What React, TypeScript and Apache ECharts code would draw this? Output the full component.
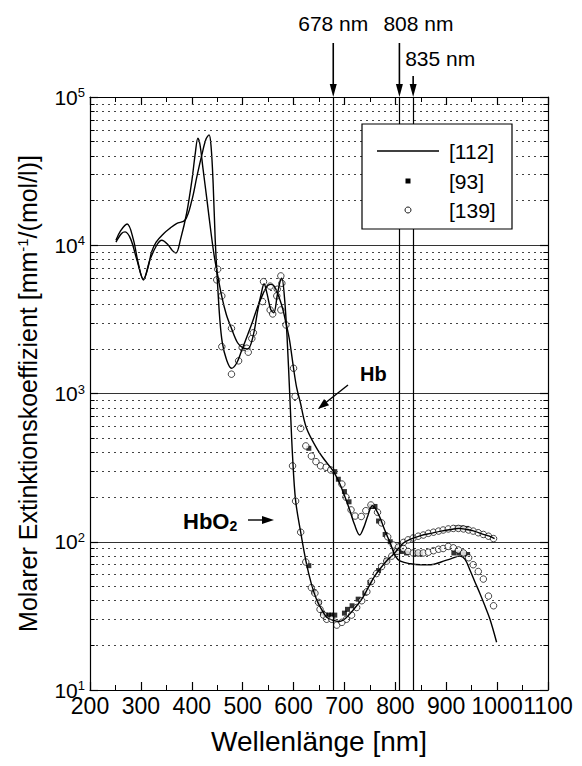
import React, { useEffect, useRef } from 'react';
import * as echarts from 'echarts';

const FONT = "'Liberation Sans', Arial, Helvetica, sans-serif";

// wavelengths of the marked laser lines (nm)
const laserLines = [678, 808, 835];
const laserLabels = ['678 nm', '808 nm', '835 nm'];

// y axis decades and mantissas for the dotted minor grid
const decades = [10, 100, 1000, 10000];
const mantissas = [2, 3, 4, 5, 6, 7, 8, 9];

// [112] – continuous curves
const hbO2_112: [number, number][] = [
  [251, 10500], [262, 12000], [269, 12300], [280, 11000], [292, 8000], [305, 5900], [318, 8000],
  [331, 10000], [341, 10800], [352, 10200], [362, 9200], [369, 8870], [378, 11000], [390, 16500],
  [400, 27000], [407, 42000], [412, 52800], [416, 48000], [422, 33000], [430, 20000], [438, 12000],
  [444, 8500], [449, 6800], [459, 4500], [468, 3400], [478, 2750], [490, 2200], [500, 2040],
  [510, 2000], [520, 2400], [530, 3700], [537, 4800], [542, 5500], [548, 4700], [555, 3700],
  [561, 3500], [568, 4600], [573, 5600], [577, 6000], [582, 4500], [587, 2500], [593, 900],
  [598, 380], [604, 190], [614, 116], [624, 75], [635, 52], [645, 41], [655, 35], [665, 31],
  [678, 29.5], [690, 29], [700, 30], [712, 33], [724, 37], [736, 42], [748, 50], [760, 59],
  [772, 67], [784, 75], [796, 82], [806, 90], [816, 98], [830, 104], [850, 110], [870, 114],
  [890, 118], [910, 121], [925, 123], [940, 121], [955, 118], [970, 113], [985, 109], [995, 105],
];
const hb_112: [number, number][] = [
  [251, 10800], [260, 12500], [273, 13900], [285, 11000], [295, 7500], [305, 5830], [315, 7300],
  [321, 9000], [330, 10500], [345, 12000], [357, 13000], [370, 14000], [387, 14800], [400, 20000],
  [410, 29000], [420, 41000], [428, 52000], [434, 55500], [438, 46000], [442, 26000], [446, 11000],
  [450, 6000], [455, 3200], [460, 2200], [468, 1700], [478, 1480], [488, 1600], [498, 1950],
  [510, 2500], [520, 3100], [530, 3900], [540, 4700], [548, 5300], [555, 5450], [562, 5300],
  [570, 4600], [578, 3800], [585, 3000], [592, 2300], [600, 1480], [606, 1100], [613, 880],
  [625, 590], [645, 430], [660, 360], [678, 300], [690, 250], [700, 205], [710, 165], [720, 130],
  [730, 111], [738, 125], [746, 150], [755, 175], [762, 165], [770, 145], [780, 118], [790, 98],
  [800, 80], [810, 74], [830, 71], [850, 70], [870, 70], [890, 73], [910, 77], [927, 80],
  [937, 76], [947, 64], [956, 54], [966, 45], [976, 37], [986, 30], [999, 21],
];

// [93] – filled squares
const hbO2_93: [number, number][] = [
  [630, 69], [640, 46], [650, 39], [657, 33], [663, 32], [669, 32], [675, 32], [681, 32],
  [700, 33], [706, 35], [715, 37], [727, 41], [740, 45], [750, 53], [767, 64], [783, 75],
  [800, 85], [920, 124], [930, 124], [940, 123],
];
const hb_93: [number, number][] = [
  [630, 427], [681, 297], [688, 264], [700, 218], [709, 186], [753, 173], [760, 173],
  [767, 138], [780, 112], [790, 100], [812, 86], [822, 84], [840, 83], [850, 83],
  [915, 84], [925, 84], [935, 83], [942, 82],
];

// [139] – open circles
const hbO2_139: [number, number][] = [
  [449, 5840], [459, 4550], [478, 2750], [499, 2040], [508, 2020], [518, 2350], [541, 5680],
  [554, 3660], [559, 3440], [567, 4550], [575, 6210], [577, 5540], [598, 325], [604, 188],
  [614, 116], [624, 73], [635, 49], [642, 45], [649, 39], [652, 35], [659, 32], [665, 30],
  [675, 30], [685, 27.4], [695, 28.6], [704, 30], [714, 32], [724, 36], [734, 40], [744, 46],
  [753, 54], [763, 61], [773, 68], [783, 74], [793, 80], [803, 86], [810, 93], [816, 99],
  [825, 103], [835, 106], [845, 109], [855, 111], [865, 114], [875, 116], [885, 118], [894, 120],
  [904, 122], [914, 123], [924, 123], [934, 122], [944, 120], [953, 118], [963, 115], [973, 112],
  [983, 109], [993, 105],
];
const hb_139: [number, number][] = [
  [451, 6890], [459, 2070], [478, 1350], [492, 1660], [511, 1900], [521, 2570], [539, 4170],
  [554, 5300], [568, 5050], [575, 3660], [585, 2900], [600, 1480], [603, 955], [614, 582],
  [624, 443], [635, 378], [644, 347], [653, 325], [664, 318], [673, 305], [695, 245], [703, 200],
  [713, 164], [721, 149], [733, 148], [742, 162], [752, 177], [765, 158], [773, 134], [785, 108],
  [796, 95], [806, 92], [816, 90], [825, 86], [835, 84], [845, 84], [855, 84], [865, 85],
  [875, 87], [885, 89], [894, 90], [904, 93], [914, 91], [924, 88], [934, 84], [944, 78],
  [953, 70], [963, 63], [973, 56], [983, 43], [993, 37],
];

const minorGridValues: number[] = [];
decades.forEach((d) => mantissas.forEach((m) => minorGridValues.push(d * m)));

const black = '#000';

function arrowHead(tipX: number, tipY: number, dx: number, dy: number, len: number, half: number) {
  const n = Math.hypot(dx, dy);
  const ux = dx / n, uy = dy / n;
  const bx = tipX - ux * len, by = tipY - uy * len;
  const px = -uy, py = ux;
  return [[tipX, tipY], [bx + px * half, by + py * half], [bx - px * half, by - py * half]];
}

export default function App() {
  const ref = useRef<HTMLDivElement>(null);
  useEffect(() => {
    if (!ref.current) return;
    const chart = echarts.init(ref.current, undefined, { renderer: 'svg' });

    const axisLine = { show: true, lineStyle: { color: black, width: 1.2 } };
    const xTick = { show: true, inside: true, length: 8, lineStyle: { color: black, width: 1.2 } };
    const xMinor = { show: true, splitNumber: 2, length: 5, lineStyle: { color: black, width: 1 } };
    const yTick = { show: true, inside: true, length: 8, lineStyle: { color: black, width: 1.2 } };

    const minorTickLines: any[] = [];
    minorGridValues.forEach((v) => {
      minorTickLines.push([{ coord: [200, v] }, { coord: [209, v] }]);
      minorTickLines.push([{ coord: [1100, v] }, { coord: [1091, v] }]);
    });

    const option: any = {
      animation: false,
      backgroundColor: '#fff',
      grid: { left: 90, top: 97, width: 458, height: 593 },
      xAxis: [
        {
          type: 'value', min: 200, max: 1100, interval: 100, position: 'bottom',
          axisLine, axisTick: xTick, minorTick: xMinor, splitLine: { show: false },
          axisLabel: {
            fontSize: 23, color: black, fontFamily: FONT, margin: 4,
            showMinLabel: true, showMaxLabel: true, hideOverlap: false,
            formatter: (v: number) => String(v),
          },
          name: 'Wellenlänge [nm]', nameLocation: 'middle', nameGap: 37,
          nameTextStyle: { fontSize: 28, color: black, fontFamily: FONT },
        },
        {
          type: 'value', min: 200, max: 1100, interval: 100, position: 'top',
          axisLine, axisTick: xTick, minorTick: xMinor, splitLine: { show: false },
          axisLabel: { show: false },
        },
      ],
      yAxis: [
        {
          type: 'log', logBase: 10, min: 10, max: 100000, position: 'left',
          axisLine, axisTick: yTick,
          splitLine: { show: true, lineStyle: { color: '#333', width: 1 } },
          axisLabel: {
            margin: 5, color: black, showMinLabel: true, showMaxLabel: true,
            formatter: (v: number) => `{b|10}{s|${Math.round(Math.log10(v))}}`,
            rich: {
              b: { fontSize: 21, fontFamily: FONT, color: black, lineHeight: 22 },
              s: { fontSize: 13, fontFamily: FONT, color: black, verticalAlign: 'top', lineHeight: 13 },
            },
          },
          name: 'Molarer Extinktionskoeffizient [mm{s|-1}/(mol/l)]',
          nameLocation: 'middle', nameGap: 50, nameRotate: 90,
          nameTextStyle: {
            fontSize: 25, color: black, fontFamily: FONT,
            rich: { s: { fontSize: 15, fontFamily: FONT, color: black, verticalAlign: 'top', lineHeight: 15 } },
          },
        },
        {
          type: 'log', logBase: 10, min: 10, max: 100000, position: 'right',
          axisLine, axisTick: yTick, splitLine: { show: false }, axisLabel: { show: false },
        },
      ],
      series: [
        {
          name: 'grid', type: 'line', data: [], silent: true,
          markLine: {
            silent: true, symbol: 'none', label: { show: false }, animation: false,
            lineStyle: { color: '#444', type: [2, 4], width: 1 },
            data: minorGridValues.map((v) => ({ yAxis: v })),
          },
        },
        {
          name: 'ticks', type: 'line', data: [], silent: true,
          markLine: {
            silent: true, symbol: 'none', label: { show: false }, animation: false,
            lineStyle: { color: black, type: 'solid', width: 1 },
            data: minorTickLines,
          },
        },
        {
          name: 'lasers', type: 'line', data: [], silent: true,
          markLine: {
            silent: true, symbol: 'none', label: { show: false }, animation: false,
            lineStyle: { color: black, type: 'solid', width: 1.2 },
            data: laserLines.map((v) => ({ xAxis: v })),
          },
        },
        {
          name: 'HbO2 [112]', type: 'line', data: hbO2_112, smooth: 0.35, showSymbol: false,
          lineStyle: { color: black, width: 1.4 }, silent: true,
        },
        {
          name: 'Hb [112]', type: 'line', data: hb_112, smooth: 0.35, showSymbol: false,
          lineStyle: { color: black, width: 1.4 }, silent: true,
        },
        {
          name: 'HbO2 [93]', type: 'scatter', data: hbO2_93, symbol: 'rect', symbolSize: 5,
          itemStyle: { color: black }, silent: true,
        },
        {
          name: 'Hb [93]', type: 'scatter', data: hb_93, symbol: 'rect', symbolSize: 5,
          itemStyle: { color: black }, silent: true,
        },
        {
          name: 'HbO2 [139]', type: 'scatter', data: hbO2_139, symbol: 'circle', symbolSize: 6.5,
          itemStyle: { color: '#fff', borderColor: black, borderWidth: 0.9 }, silent: true,
        },
        {
          name: 'Hb [139]', type: 'scatter', data: hb_139, symbol: 'circle', symbolSize: 6.5,
          itemStyle: { color: '#fff', borderColor: black, borderWidth: 0.9 }, silent: true,
        },
      ],
    };
    chart.setOption(option);

    // annotations positioned from the axis scale
    const top = chart.convertToPixel({ yAxisIndex: 0 }, 100000) as number;
    const graphics: any[] = [];
    const arrowStarts = [43, 43, 76];
    laserLines.forEach((nm, i) => {
      const x = chart.convertToPixel({ xAxisIndex: 0 }, nm) as number;
      graphics.push({
        type: 'line', shape: { x1: x, y1: arrowStarts[i], x2: x, y2: top - 10 },
        style: { stroke: black, lineWidth: 1.6 }, silent: true,
      });
      graphics.push({
        type: 'polygon', shape: { points: arrowHead(x, top, 0, 1, 13, 3.5) },
        style: { fill: black }, silent: true,
      });
    });
    const x678 = chart.convertToPixel({ xAxisIndex: 0 }, 678) as number;
    const x808 = chart.convertToPixel({ xAxisIndex: 0 }, 808) as number;
    const x835 = chart.convertToPixel({ xAxisIndex: 0 }, 835) as number;
    const labelStyle = { fill: black, fontSize: 21, fontFamily: FONT, textVerticalAlign: 'middle' };
    graphics.push({ type: 'text', x: x678, y: 23, style: { ...labelStyle, text: laserLabels[0], textAlign: 'center' } });
    graphics.push({ type: 'text', x: x808 - 16, y: 23, style: { ...labelStyle, text: laserLabels[1], textAlign: 'left' } });
    graphics.push({ type: 'text', x: x835 - 8, y: 58, style: { ...labelStyle, text: laserLabels[2], textAlign: 'left' } });

    // Hb annotation
    graphics.push({ type: 'text', x: 360, y: 374, style: { text: 'Hb', fill: black, fontSize: 20, fontWeight: 'bold', fontFamily: FONT, textVerticalAlign: 'middle' } });
    graphics.push({ type: 'line', shape: { x1: 348, y1: 385, x2: 324, y2: 404 }, style: { stroke: black, lineWidth: 1.4 } });
    graphics.push({ type: 'polygon', shape: { points: arrowHead(318, 409, -30, 24, 11, 4) }, style: { fill: black } });

    // HbO2 annotation
    graphics.push({
      type: 'text', x: 183, y: 521,
      style: {
        text: '{m|HbO}{s|2}', fontFamily: FONT, textVerticalAlign: 'middle',
        rich: {
          m: { fontSize: 22, fontWeight: 'bold', fontFamily: FONT, fill: black, lineHeight: 24 },
          s: { fontSize: 14, fontWeight: 'bold', fontFamily: FONT, fill: black, verticalAlign: 'bottom', lineHeight: 14 },
        },
      },
    });
    graphics.push({ type: 'line', shape: { x1: 248, y1: 520, x2: 263, y2: 520 }, style: { stroke: black, lineWidth: 1.4 } });
    graphics.push({ type: 'polygon', shape: { points: arrowHead(274, 520, 1, 0, 12, 4) }, style: { fill: black } });

    // legend
    const lx = 362, ly = 124;
    graphics.push({ type: 'rect', shape: { x: lx, y: ly, width: 150, height: 105 }, style: { fill: '#fff', stroke: black, lineWidth: 1.2 } });
    graphics.push({ type: 'line', shape: { x1: 377, y1: 151, x2: 439, y2: 151 }, style: { stroke: black, lineWidth: 1.4 } });
    graphics.push({ type: 'rect', shape: { x: 405.5, y: 178.5, width: 5, height: 5 }, style: { fill: black } });
    graphics.push({ type: 'circle', shape: { cx: 408, cy: 210, r: 3 }, style: { fill: '#fff', stroke: black, lineWidth: 0.9 } });
    const legStyle = { fill: black, fontSize: 21, fontFamily: FONT, textVerticalAlign: 'middle' };
    graphics.push({ type: 'text', x: 449, y: 151, style: { ...legStyle, text: '[112]' } });
    graphics.push({ type: 'text', x: 449, y: 181, style: { ...legStyle, text: '[93]' } });
    graphics.push({ type: 'text', x: 449, y: 210, style: { ...legStyle, text: '[139]' } });

    chart.setOption({ graphic: graphics.map((g) => ({ ...g, silent: true, z: 100 })) });

    return () => chart.dispose();
  }, []);

  return (
    <div
      ref={ref}
      style={{ position: 'fixed', left: 0, top: 0, width: 582, height: 766, background: '#fff' }}
    />
  );
}
